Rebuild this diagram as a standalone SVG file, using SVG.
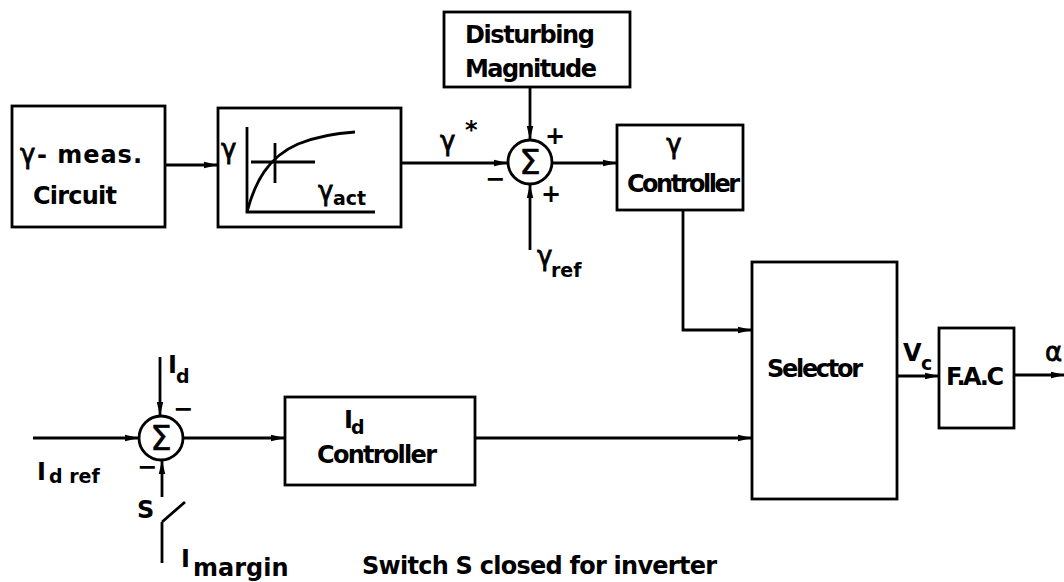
<svg xmlns="http://www.w3.org/2000/svg" width="1064" height="582" viewBox="0 0 1064 582">
<style>
.box{fill:none;stroke:#000;stroke-width:2.8}
.ln{fill:none;stroke:#000;stroke-width:2.8}
.ar{marker-end:url(#ah)}
text{font-family:"DejaVu Sans","Liberation Sans",sans-serif;fill:#000;font-size:24px;font-weight:bold}
.sub{font-size:19px}
.g{font-size:26px;font-weight:normal;stroke:#000;stroke-width:0.8}
.sig{font-size:34px;font-weight:normal;stroke:#000;stroke-width:0.6}
</style>
<defs>
<marker id="ah" markerUnits="userSpaceOnUse" markerWidth="14" markerHeight="8" refX="13" refY="4" orient="auto">
<path d="M0,0.8 L14,4 L0,7.2 z" fill="#000"/>
</marker>
</defs>
<rect width="1064" height="582" fill="#fff"/>

<g id="meas">
<rect class="box" x="12" y="106" width="153" height="121"/>
<text x="20" y="163" class="g">γ</text>
<text x="37" y="163" textLength="105">- meas.</text>
<text x="33" y="204" textLength="84">Circuit</text>
</g>

<g id="curve">
<rect class="box" x="218" y="108" width="183" height="119"/>
<path class="ln" d="M247,127 L247,212 L375,212"/>
<path class="ln" d="M247,212 C255,182 268,157 298,144 C318,136 338,133 355,132"/>
<path class="ln" d="M251,162 L315,162 M275,143 L275,183"/>
<text x="221" y="158" class="g">γ</text>
<text x="318" y="200" class="g">γ</text>
<text x="333" y="205" class="sub">act</text>
</g>

<g id="disturb">
<rect class="box" x="444" y="12" width="186" height="75"/>
<text x="465" y="43" textLength="130">Disturbing</text>
<text x="465" y="77" textLength="132">Magnitude</text>
</g>

<g id="sum1">
<circle cx="530" cy="162" r="22" fill="none" stroke="#000" stroke-width="2.8"/>
<text x="530" y="174" text-anchor="middle" class="sig">Σ</text>
<text x="555" y="144" text-anchor="middle" font-size="24">+</text>
<text x="551" y="202" text-anchor="middle" font-size="24">+</text>
<text x="495" y="187" text-anchor="middle" font-size="24">−</text>
</g>

<g id="gctrl">
<rect class="box" x="617" y="125" width="126" height="85"/>
<text x="674" y="153" text-anchor="middle" class="g">γ</text>
<text x="627" y="192" textLength="113">Controller</text>
</g>

<g id="selector">
<rect class="box" x="752" y="262" width="145" height="237"/>
<text x="767" y="377" textLength="96">Selector</text>
</g>

<g id="fac">
<rect class="box" x="939" y="328" width="75" height="100"/>
<text x="946" y="385" textLength="58">F.A.C</text>
</g>

<g id="sum2">
<circle cx="161" cy="438" r="22" fill="none" stroke="#000" stroke-width="2.8"/>
<text x="161" y="450" text-anchor="middle" class="sig">Σ</text>
<text x="183" y="417" text-anchor="middle" font-size="22">−</text>
<text x="147" y="475" text-anchor="middle" font-size="22">−</text>
</g>

<g id="idctrl">
<rect class="box" x="285" y="397" width="190" height="88"/>
<text x="344" y="428" font-size="20">I</text>
<text x="351" y="434" class="sub">d</text>
<text x="317" y="463" textLength="120">Controller</text>
</g>

<g id="connectors">
<path class="ln ar" d="M165,165 L217,165"/>
<path class="ln ar" d="M401,163 L507,163"/>
<path class="ln ar" d="M530,87 L530,139"/>
<path class="ln ar" d="M530,250 L530,185"/>
<path class="ln ar" d="M552,163 L616,163"/>
<path class="ln ar" d="M683,210 L683,330 L751,330"/>
<path class="ln ar" d="M897,376 L938,376"/>
<path class="ln ar" d="M1014,375 L1064,375"/>
<path class="ln ar" d="M33,438 L138,438"/>
<path class="ln ar" d="M160,357 L160,415"/>
<path class="ln ar" d="M162,497 L162,461"/>
<path class="ln" d="M162,522 L185,502 M162,522 L162,563"/>
<path class="ln ar" d="M183,438 L284,438"/>
<path class="ln ar" d="M475,438 L751,438"/>
</g>

<g id="labels">
<text x="440" y="150" class="g">γ</text>
<text x="465" y="138" font-size="20">*</text>
<text x="537" y="265" class="g">γ</text>
<text x="551" y="277" class="sub">ref</text>
<text x="903" y="361" font-size="20">V</text>
<text x="921" y="370" class="sub">c</text>
<text x="1045" y="361" class="g">α</text>
<text x="37" y="480" font-size="20">I</text>
<text x="49" y="483" class="sub">d ref</text>
<text x="168" y="373" font-size="20">I</text>
<text x="176" y="383" class="sub">d</text>
<text x="137" y="518" font-size="20">S</text>
<text x="181" y="567" font-size="20">I</text>
<text x="193" y="576" font-size="21">margin</text>
<text x="362" y="574" textLength="355">Switch S closed for inverter</text>
</g>
</svg>
